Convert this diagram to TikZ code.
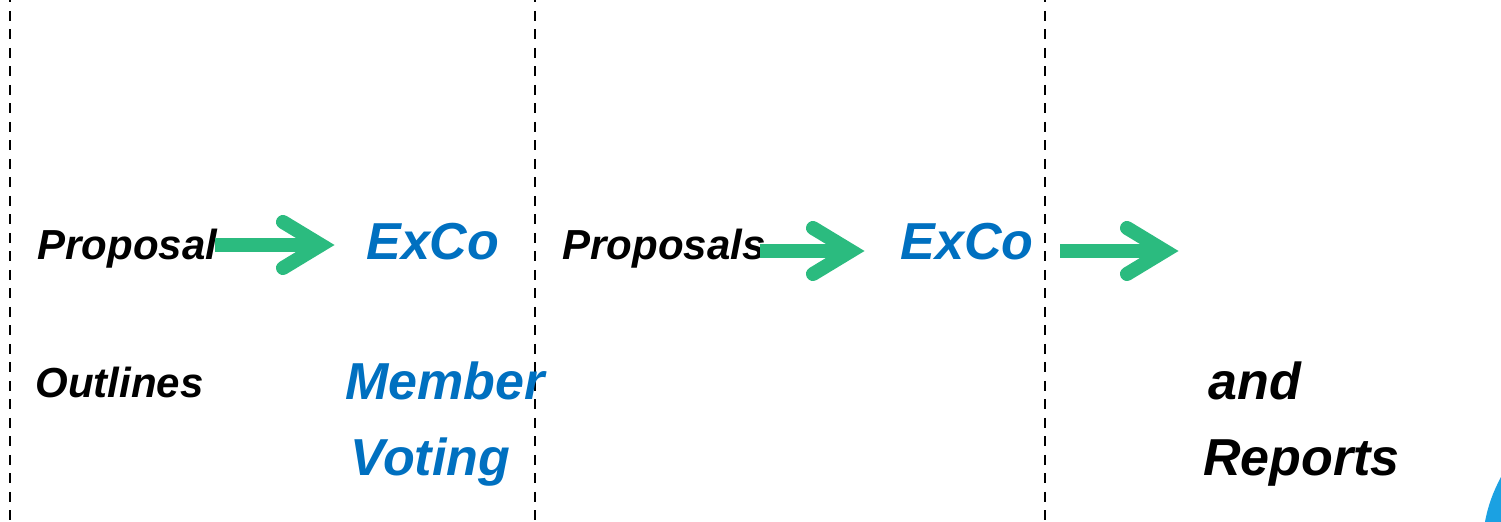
\documentclass[tikz,border=0pt]{standalone}
\usepackage{fontspec}
\setmainfont{Liberation Sans}
\usetikzlibrary{calc}
\definecolor{exblue}{RGB}{0,112,192}
\definecolor{agreen}{RGB}{43,187,127}
\definecolor{cornerblue}{RGB}{27,161,226}
\begin{document}
\begin{tikzpicture}[x=0.5pt,y=-0.5pt,
  lbl/.style={inner sep=0pt, anchor=base west},
  small/.style={lbl, font=\fontsize{21}{25}\selectfont\bfseries\itshape},
  big/.style={lbl, font=\fontsize{26}{31}\selectfont\bfseries\itshape},
  divider/.style={line width=1.2pt, dash pattern=on 5pt off 4.25pt},
  shaft/.style={line width=7pt, agreen, line cap=butt},
  head/.style={line width=7pt, agreen, line cap=round, line join=miter}]
\useasboundingbox (0,0) rectangle (1501,522);
% dividers
\coordinate (d1t) at (10,-7.5);   \coordinate (d1b) at (10,530);
\coordinate (d2t) at (535,-7.5);  \coordinate (d2b) at (535,530);
\coordinate (d3t) at (1045,-7.5); \coordinate (d3b) at (1045,530);
\draw[divider] (d1t) -- (d1b);
\draw[divider] (d2t) -- (d2b);
\draw[divider] (d3t) -- (d3b);
% texts
\node[small] (prop) at (37,260) {Proposal};
\node[big, text=exblue] (exco1) at (366,260) {ExCo};
\node[small] (props) at (562,260) {Proposals};
\node[big, text=exblue] (exco2) at (900,260) {ExCo};
\node[small] (outl) at (35,398) {Outlines};
\node[big, text=exblue] (memb) at (345,400) {Member};
\node[big, text=exblue] (vot) at (350,476) {Voting};
\node[big] (and) at (1208,400) {and};
\node[big] (rep) at (1203,476) {Reports};
% arrows
\coordinate (a1s) at (215,245); \coordinate (a1t) at (321,245);
\coordinate (a2s) at (760,251); \coordinate (a2t) at (851,251);
\coordinate (a3s) at (1060,251); \coordinate (a3t) at (1165,251);
\foreach \s/\t in {a1s/a1t, a2s/a2t, a3s/a3t}{
  \draw[shaft] (\s) -- (\t);
  \draw[head] ($(\t)+(-38,-23)$) -- (\t) -- ($(\t)+(-38,23)$);
}
% corner shape
\fill[cornerblue] (1501,477) .. controls (1494,490) and (1488,505) .. (1485,522) -- (1501,522) -- cycle;
\end{tikzpicture}
\end{document}
